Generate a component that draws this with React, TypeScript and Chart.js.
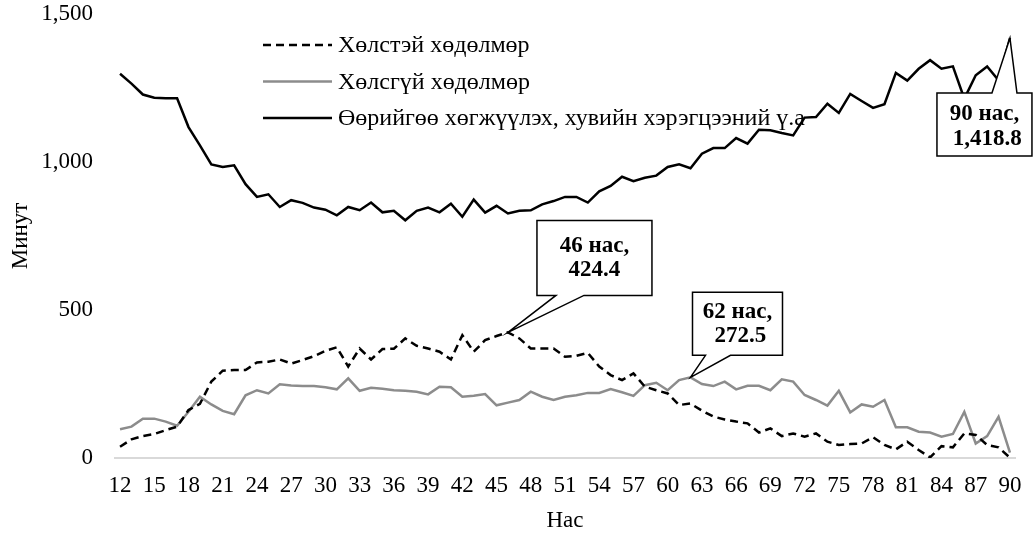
import React, { useEffect, useRef } from "react";
import { Chart, registerables } from "chart.js";

Chart.register(...registerables);

const ages = [12, 13, 14, 15, 16, 17, 18, 19, 20, 21, 22, 23, 24, 25, 26, 27, 28, 29, 30, 31, 32, 33, 34, 35, 36, 37, 38, 39, 40, 41, 42, 43, 44, 45, 46, 47, 48, 49, 50, 51, 52, 53, 54, 55, 56, 57, 58, 59, 60, 61, 62, 63, 64, 65, 66, 67, 68, 69, 70, 71, 72, 73, 74, 75, 76, 77, 78, 79, 80, 81, 82, 83, 84, 85, 86, 87, 88, 89, 90];

const tickAges = [12, 15, 18, 21, 24, 27, 30, 33, 36, 39, 42, 45, 48, 51, 54, 57, 60, 63, 66, 69, 72, 75, 78, 81, 84, 87, 90];

const paidWork = [38, 63, 74, 81, 94, 106, 162, 183, 258, 295, 297, 297, 323, 325, 333, 319, 331, 344, 362, 374, 309, 370, 333, 368, 369, 404, 379, 370, 359, 333, 415, 359, 398, 412, 424.4, 404, 370, 370, 370, 342, 345, 355, 309, 280, 263, 286, 241, 229, 218, 179, 184, 160, 140, 130, 123, 117, 86, 100, 74, 83, 72, 83, 55, 44, 47, 49, 70, 44, 29, 55, 27, 2, 40, 36, 83, 78, 44, 36, 1];

const unpaidWork = [97, 106, 133, 133, 123, 109, 156, 207, 181, 159, 148, 212, 229, 218, 249, 245, 243, 243, 239, 232, 269, 227, 237, 234, 229, 227, 224, 215, 241, 239, 207, 210, 216, 178, 187, 196, 224, 207, 196, 207, 212, 220, 220, 233, 222, 210, 246, 254, 229, 263, 272.5, 250, 243, 258, 232, 244, 244, 229, 266, 258, 213, 196, 177, 227, 154, 181, 173, 196, 104, 104, 89, 86, 72, 81, 156, 49, 74, 139, 18];

const selfCare = [1298, 1265, 1228, 1217, 1215, 1215, 1118, 1056, 992, 983, 989, 925, 882, 891, 848, 871, 862, 846, 839, 820, 848, 837, 863, 830, 835, 803, 835, 846, 830, 859, 815, 873, 829, 852, 826, 835, 837, 857, 868, 882, 882, 863, 901, 919, 950, 935, 947, 954, 983, 992, 979, 1028, 1047, 1047, 1081, 1062, 1109, 1107, 1098, 1090, 1150, 1152, 1197, 1166, 1230, 1206, 1183, 1195, 1301, 1275, 1315, 1344, 1315, 1323, 1214, 1293, 1323, 1276, 1418.8];

const seriesNames = [
  "Хөлстэй хөдөлмөр",
  "Хөлсгүй хөдөлмөр",
  "Өөрийгөө хөгжүүлэх, хувийн хэрэгцээний ү.а",
];
const seriesColors = ["#000000", "#8c8c8c", "#000000"];
const seriesDash = [[8, 5], [], []];

const yTicks = [0, 500, 1000, 1500];

const calloutAges = [46, 62, 90];
const calloutValues = [424.4, 272.5, 1418.8];
const calloutLines = [
  ["46 нас,", "424.4"],
  ["62 нас,", " 272.5"],
  ["90 нас,", " 1,418.8"],
];

const FONT = "'Liberation Serif', 'Times New Roman', serif";

const seriesData = [paidWork, unpaidWork, selfCare];

// callout geometry relative to anchor: box [dx1, dy1, dx2, dy2], pointer base [bx1, bx2], side
const calloutGeom = [
  { box: [29, -112, 144, -37], base: [48, 76], side: "bottom", l1: 26, l2: 50 },
  { box: [2, -85, 92, -22], base: [15, 40], side: "bottom", l1: 20, l2: 44 },
  { box: [-73, 55, 22, 118], base: [-18, 7], side: "top", l1: 21, l2: 46 },
];

const overlayPlugin = {
  id: "overlay",
  afterDraw(chart: any) {
    const ctx = chart.ctx;
    const area = chart.chartArea;
    // legend
    ctx.save();
    const lx = area.left + 149;
    const ly0 = area.top + 31;
    const rowGap = 36.5;
    for (let i = 0; i < seriesNames.length; i++) {
      const y = ly0 + i * rowGap;
      ctx.beginPath();
      ctx.setLineDash(seriesDash[i]);
      ctx.strokeStyle = seriesColors[i];
      ctx.lineWidth = 2.5;
      ctx.moveTo(lx, y);
      ctx.lineTo(lx + 69, y);
      ctx.stroke();
      ctx.setLineDash([]);
      ctx.fillStyle = "#000";
      ctx.font = `24px ${FONT}`;
      ctx.textAlign = "left";
      ctx.textBaseline = "middle";
      ctx.fillText(seriesNames[i], lx + 75, y + 1);
    }
    ctx.restore();

    // callouts
    const xs = chart.scales.x;
    const ys = chart.scales.y;
    for (let i = 0; i < calloutAges.length; i++) {
      const ax = xs.getPixelForValue(calloutAges[i]);
      const ay = ys.getPixelForValue(calloutValues[i]);
      const g = calloutGeom[i];
      const x1 = ax + g.box[0];
      const y1 = ay + g.box[1];
      const x2 = ax + g.box[2];
      const y2 = ay + g.box[3];
      const b1 = ax + g.base[0];
      const b2 = ax + g.base[1];
      ctx.save();
      ctx.beginPath();
      if (g.side === "bottom") {
        ctx.moveTo(x1, y1);
        ctx.lineTo(x2, y1);
        ctx.lineTo(x2, y2);
        ctx.lineTo(b2, y2);
        ctx.lineTo(ax, ay);
        ctx.lineTo(b1, y2);
        ctx.lineTo(x1, y2);
      } else {
        ctx.moveTo(x1, y1);
        ctx.lineTo(b1, y1);
        ctx.lineTo(ax, ay);
        ctx.lineTo(b2, y1);
        ctx.lineTo(x2, y1);
        ctx.lineTo(x2, y2);
        ctx.lineTo(x1, y2);
      }
      ctx.closePath();
      ctx.fillStyle = "#ffffff";
      ctx.fill();
      ctx.strokeStyle = "#000";
      ctx.lineWidth = 1.5;
      ctx.lineJoin = "miter";
      ctx.stroke();
      ctx.fillStyle = "#000";
      ctx.font = `bold 23px ${FONT}`;
      ctx.textAlign = "center";
      ctx.textBaseline = "middle";
      const cx = (x1 + x2) / 2;
      ctx.fillText(calloutLines[i][0], cx, y1 + g.l1);
      ctx.fillText(calloutLines[i][1], cx, y1 + g.l2);
      ctx.restore();
    }
  },
};

export default function App() {
  const ref = useRef<HTMLCanvasElement | null>(null);
  useEffect(() => {
    if (!ref.current) return;
    const chart = new Chart(ref.current, {
      type: "line",
      data: {
        datasets: seriesNames.map((name, i) => ({
          label: name,
          data: ages.map((a, j) => ({ x: a, y: seriesData[i][j] })),
          borderColor: seriesColors[i],
          backgroundColor: seriesColors[i],
          borderWidth: 2.5,
          borderDash: seriesDash[i],
          pointRadius: 0,
          tension: 0,
          fill: false,
        })),
      },
      options: {
        animation: false,
        responsive: false,
        devicePixelRatio: 1,
        layout: { padding: { left: 0, right: 20, top: 14, bottom: 0 } },
        plugins: {
          legend: { display: false },
          tooltip: { enabled: false },
          title: { display: false },
        },
        scales: {
          x: {
            type: "linear",
            min: 11.47,
            max: 90.53,
            afterBuildTicks: (scale: any) => {
              scale.ticks = tickAges.map((v) => ({ value: v }));
            },
            afterFit: (scale: any) => {
              scale.height = 77;
            },
            grid: { display: false, drawTicks: false },
            border: { display: false },
            ticks: {
              autoSkip: false,
              maxRotation: 0,
              minRotation: 0,
              padding: 14,
              color: "#000",
              font: { family: FONT, size: 23 },
              callback: (v: any) => String(v),
            },
            title: {
              display: true,
              text: "Нас",
              color: "#000",
              font: { family: FONT, size: 23 },
              padding: { top: 0, bottom: 0 },
            },
          },
          y: {
            min: 0,
            max: 1500,
            afterBuildTicks: (scale: any) => {
              scale.ticks = yTicks.map((v) => ({ value: v }));
            },
            afterFit: (scale: any) => {
              scale.width = 114;
              scale.paddingTop = 14;
              scale.paddingBottom = 0;
            },
            grid: {
              drawTicks: false,
              lineWidth: 2,
              color: (c: any) => (c.tick && c.tick.value === 0 ? "#d9d9d9" : "rgba(0,0,0,0)"),
            },
            border: { display: false },
            ticks: {
              padding: 21,
              color: "#000",
              font: { family: FONT, size: 23 },
              callback: (v: any) => Number(v).toLocaleString("en-US"),
            },
            title: {
              display: true,
              text: "Минут",
              color: "#000",
              font: { family: FONT, size: 23 },
              padding: { top: 7, bottom: 0 },
            },
          },
        },
      },
      plugins: [overlayPlugin],
    } as any);
    return () => chart.destroy();
  }, []);
  return (
    <div style={{ position: "fixed", left: 0, top: 0, width: 1036, height: 535, background: "#fff" }}>
      <canvas ref={ref} width={1036} height={535} style={{ width: 1036, height: 535 }} />
    </div>
  );
}
